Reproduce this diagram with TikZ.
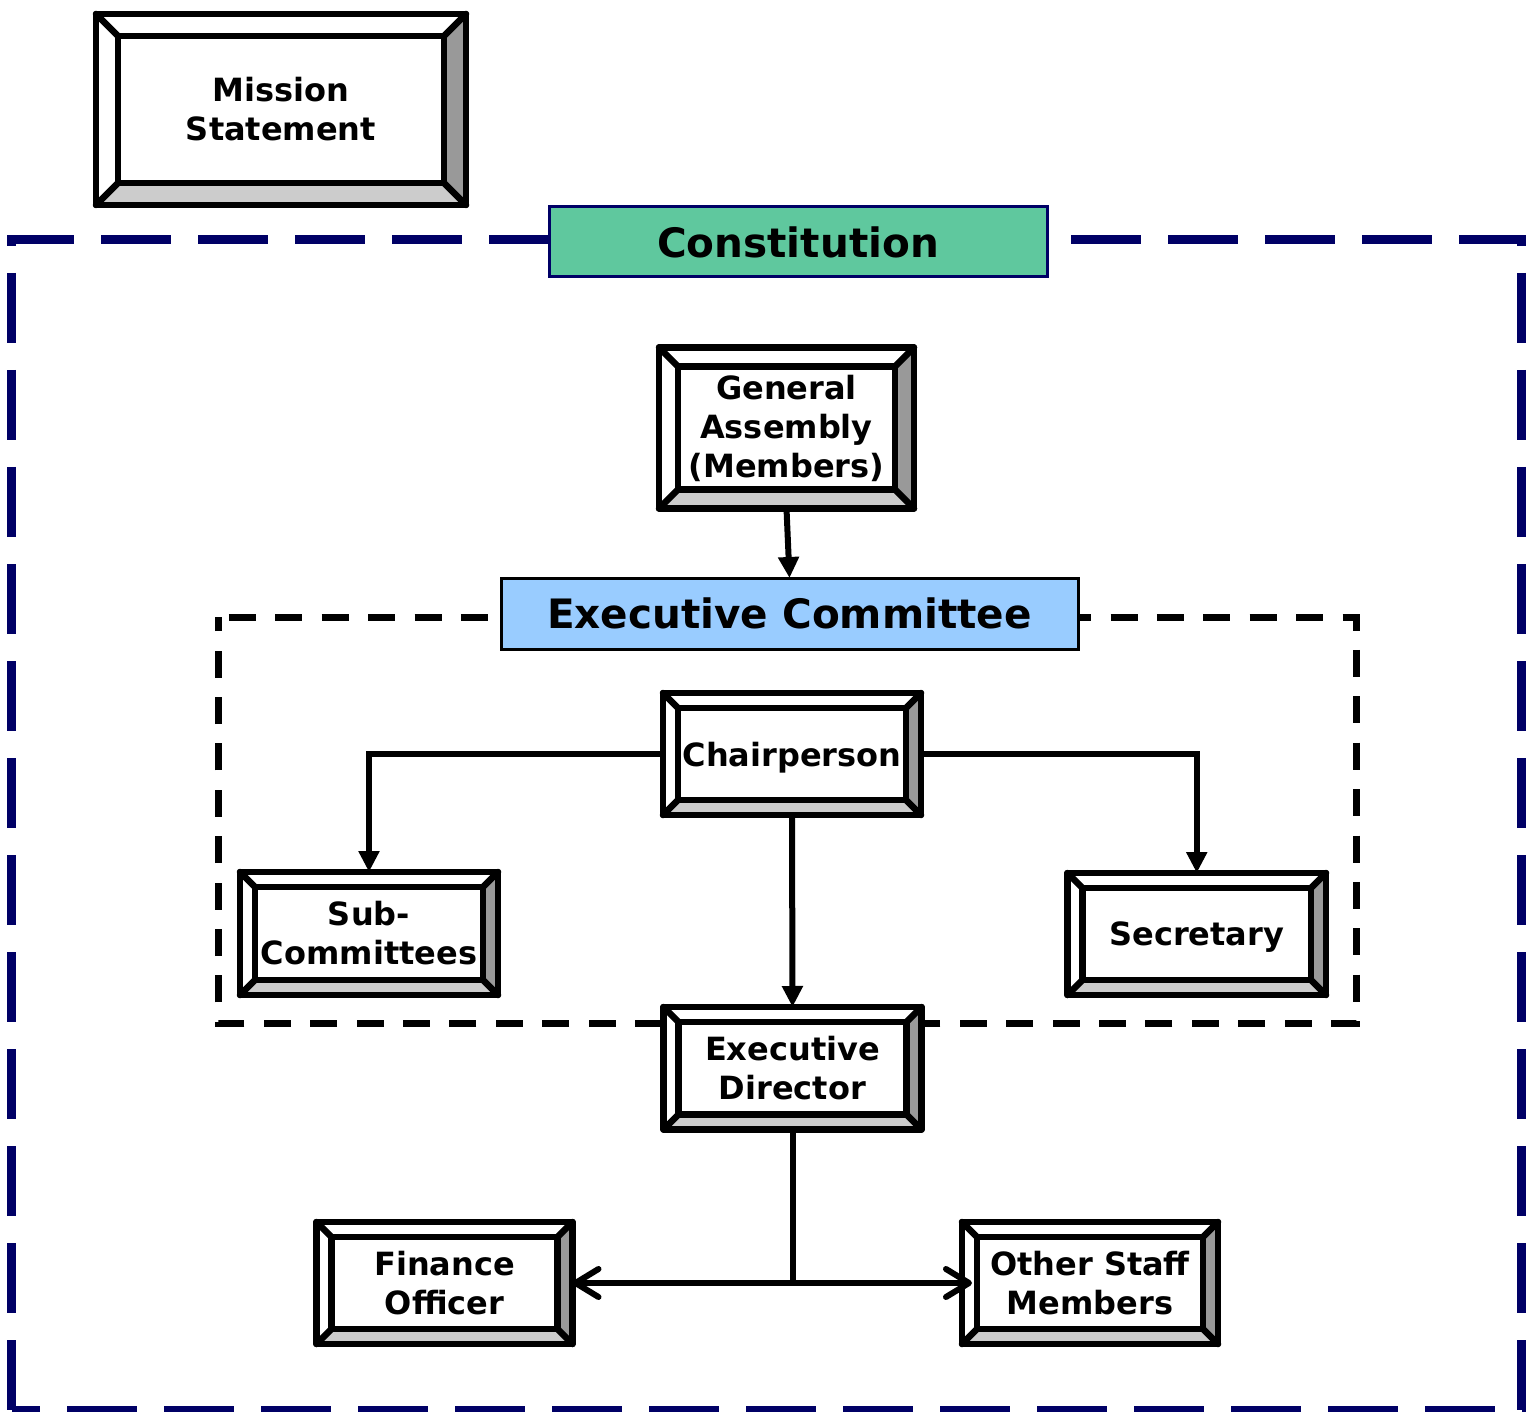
\documentclass[tikz,border=0pt]{standalone}
\usepackage{fontspec}
\setmainfont{DejaVu Sans}
\usetikzlibrary{arrows.meta,calc}

\definecolor{navyline}{HTML}{000066}
\definecolor{constgreen}{HTML}{5FC89E}
\definecolor{execblue}{HTML}{99CCFF}
\definecolor{bevdark}{HTML}{999999}
\definecolor{bevlight}{HTML}{CCCCCC}

\pgfdeclarelayer{frame}
\pgfdeclarelayer{bevel}
\pgfsetlayers{frame,bevel,main}

\tikzset{
  boxtext/.style={rectangle, font=\fontsize{32}{39}\selectfont\bfseries,
    align=center, inner sep=0pt, outer sep=0pt},
  oneline/.style={text depth=0pt},
  bannertext/.style={rectangle, font=\fontsize{40.5}{48}\selectfont\bfseries,
    align=center, inner sep=0pt, outer sep=0pt, line width=3pt},
  bevline/.style={line width=6.5pt, line join=round, line cap=round},
  conn/.style={line width=6pt},
  filledtip/.style={-{Triangle[length=21pt,width=20pt]}},
  opentip/.style={-{Straight Barb[round,length=23pt,width=28pt]}},
  outerframe/.style={draw=navyline, line width=9pt, dash pattern=on 70pt off 27pt},
  innerframe/.style={draw=black, line width=7pt, dash pattern=on 27pt off 19.4pt, dash phase=36pt},
}

% raised bevelled frame around a named node: #1 node, #2 bevel depth
\newcommand{\bevelframe}[2]{%
  \begin{pgfonlayer}{bevel}
    \path (#1.north west) coordinate (bo1) (#1.north east) coordinate (bo2)
          (#1.south east) coordinate (bo3) (#1.south west) coordinate (bo4);
    \path ($(bo1)+(#2,#2)$) coordinate (bi1) ($(bo2)+(-#2,#2)$) coordinate (bi2)
          ($(bo3)+(-#2,-#2)$) coordinate (bi3) ($(bo4)+(#2,-#2)$) coordinate (bi4);
    \fill[white] (bo1) -- (bo2) -- (bo3) -- (bo4) -- cycle;
    \fill[bevdark] (bo2) -- (bo3) -- (bi3) -- (bi2) -- cycle;
    \fill[bevlight] (bo3) -- (bo4) -- (bi4) -- (bi3) -- cycle;
    \draw[bevline] (bo1) -- (bo2) -- (bo3) -- (bo4) -- cycle;
    \draw[bevline] (bi1) -- (bi2) -- (bi3) -- (bi4) -- cycle;
    \draw[bevline] (bo1) -- (bi1) (bo2) -- (bi2) (bo3) -- (bi3) (bo4) -- (bi4);
  \end{pgfonlayer}}

\begin{document}
\begin{tikzpicture}[x=1pt, y=-1pt]
  \useasboundingbox (0,0) rectangle (1527,1412);

  % dashed group frames
  \begin{pgfonlayer}{frame}
    \draw[outerframe, dash phase=3pt]    (7,239.5) -- (1526,239.5);
    \draw[outerframe, dash phase=63.5pt] (11.5,239.5) -- (11.5,1414);
    \draw[outerframe, dash phase=63.5pt] (1521.5,239.5) -- (1521.5,1414);
    \draw[outerframe, dash phase=41.5pt] (11.5,1410) -- (1526,1410);
    \draw[innerframe] (218.5,617) -- (1356,617) -- (1356,1023) -- (218.5,1023) -- cycle;
  \end{pgfonlayer}

  % banners
  \node[bannertext, fill=constgreen, draw=navyline, minimum width=498, minimum height=70]
    (con) at (798,242) {Constitution};
  \node[bannertext, fill=execblue, draw=black, minimum width=577, minimum height=71]
    (ec) at (789.5,613.5) {Executive Committee};

  % bevelled boxes
  \node[boxtext, minimum width=370, minimum height=191] (ms) at (281,109.5) {Mission\\Statement};
  \bevelframe{ms}{22}
  \node[boxtext, minimum width=255, minimum height=161] (ga) at (786.5,428) {General\\Assembly\\(Members)};
  \bevelframe{ga}{19}
  \node[boxtext, oneline, minimum width=258, minimum height=122] (ch) at (792,754) {Chairperson};
  \bevelframe{ch}{15}
  \node[boxtext, minimum width=258, minimum height=123] (sc) at (369,933.5) {Sub-\\Committees};
  \bevelframe{sc}{15}
  \node[boxtext, oneline, minimum width=258.5, minimum height=122] (se) at (1196.75,934) {Secretary};
  \bevelframe{se}{15}
  \node[boxtext, minimum width=258, minimum height=122.5] (ed) at (792.5,1068.25) {Executive\\Director};
  \bevelframe{ed}{15}
  \node[boxtext, minimum width=256, minimum height=122] (fo) at (444.5,1283) {Finance\\Officer};
  \bevelframe{fo}{15}
  \node[boxtext, minimum width=256, minimum height=122] (os) at (1090,1283) {Other Staff\\Members};
  \bevelframe{os}{15}

  % connectors
  \draw[conn, filledtip] (ga.south) -- (ec.north);
  \draw[conn, filledtip] (ch.west) -| (sc.north);
  \draw[conn, filledtip] (ch.east) -| (se.north);
  \draw[conn, filledtip] (ch.south) -- (ed.north);
  \coordinate (split) at (ed.south |- fo.east);
  \draw[conn] (ed.south) -- (split);
  \draw[conn, opentip] (split) -- (fo.east);
  \draw[conn, opentip, shorten >=-10pt] (split) -- (os.west);
\end{tikzpicture}
\end{document}
